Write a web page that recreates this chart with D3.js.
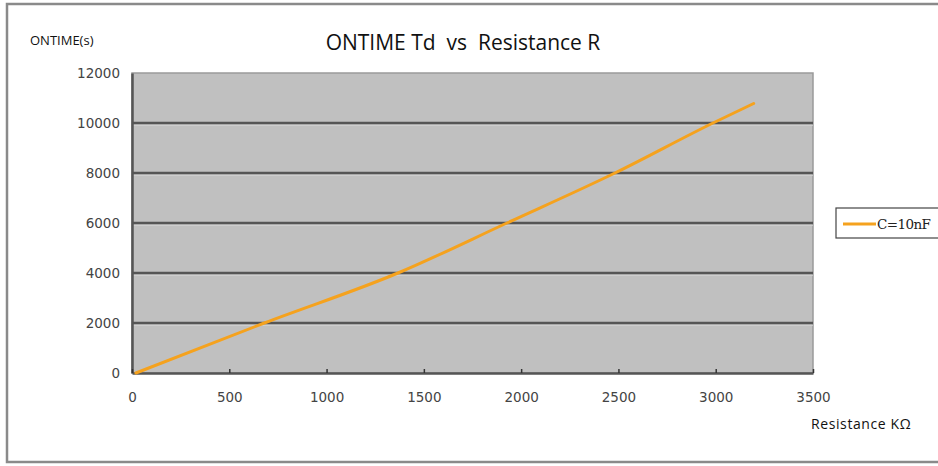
<!DOCTYPE html>
<html>
<head>
<meta charset="utf-8">
<script src="https://cdn.jsdelivr.net/npm/d3@7"></script>
<style>
  body { margin: 0; background: #fff; }
  svg { display: block; }
</style>
</head>
<body>
<svg id="chart" width="938" height="466"></svg>
<script>
// data
const resistance = [20, 680, 1367, 1927, 2482, 2986, 3195];
const ontime = [0, 2000, 4000, 6000, 8000, 10000, 10780];
const xTicks = [0, 500, 1000, 1500, 2000, 2500, 3000, 3500];
const yTicks = [0, 2000, 4000, 6000, 8000, 10000, 12000];
const seriesName = "C=10nF";

const width = 938;
const height = 466;
const margin = { top: 73, right: 125, bottom: 93, left: 132 };
const innerWidth = width - margin.left - margin.right;
const innerHeight = height - margin.top - margin.bottom;

const svg = d3.select("#chart");

// outer frame
svg.append("rect")
  .attr("x", 7).attr("y", 4)
  .attr("width", 940).attr("height", 458)
  .attr("fill", "none")
  .attr("stroke", "#8a8a8a")
  .attr("stroke-width", 2.5);

const xScale = d3.scaleLinear().domain([0, 3500]).range([0, innerWidth]);
const yScale = d3.scaleLinear().domain([0, 12000]).range([innerHeight, 0]);

const g = svg.append("g").attr("transform", `translate(${margin.left},${margin.top})`);

g.append("rect")
  .attr("width", innerWidth)
  .attr("height", innerHeight)
  .attr("fill", "#c0c0c0")
  .attr("stroke", "#9a9a9a")
  .attr("stroke-width", 1.5);

// gridlines (dark line with a light edge under it)
const grid = yTicks.filter((d) => d > 0 && d < 12000);
g.selectAll(".grid-hi").data(grid).enter().append("line")
  .attr("x1", 0).attr("x2", innerWidth)
  .attr("y1", (d) => yScale(d) + 2.2).attr("y2", (d) => yScale(d) + 2.2)
  .attr("stroke", "#d4d4d4").attr("stroke-width", 1);
g.selectAll(".grid").data(grid).enter().append("line")
  .attr("x1", 0).attr("x2", innerWidth)
  .attr("y1", (d) => yScale(d)).attr("y2", (d) => yScale(d))
  .attr("stroke", "#555").attr("stroke-width", 2.5);

// axes
const yAxis = d3.axisLeft(yScale).tickValues(yTicks).tickFormat(d3.format("d"))
  .tickSize(0).tickPadding(12);
const yAxisG = g.append("g").call(yAxis);
yAxisG.select(".domain").attr("stroke", "#555").attr("stroke-width", 2.5);

const xAxis = d3.axisBottom(xScale).tickValues(xTicks).tickFormat(d3.format("d"))
  .tickSizeInner(-4).tickSizeOuter(0).tickPadding(19);
const xAxisG = g.append("g").attr("transform", `translate(0,${innerHeight})`).call(xAxis);
xAxisG.select(".domain").attr("stroke", "#555").attr("stroke-width", 2.5);
xAxisG.selectAll(".tick line").attr("stroke", "#333").attr("stroke-width", 1.5);

svg.selectAll(".tick text")
  .attr("fill", "#444")
  .style("font-family", "'DejaVu Sans', sans-serif")
  .style("font-size", "13.5px");

// the series
const points = resistance.map((r, i) => ({ r, t: ontime[i] }));
const lineGenerator = d3.line()
  .x((d) => xScale(d.r))
  .y((d) => yScale(d.t))
  .curve(d3.curveMonotoneX);

g.append("path")
  .datum(points)
  .attr("d", lineGenerator)
  .attr("fill", "none")
  .attr("stroke", "#f5a21e")
  .attr("stroke-width", 3)
  .attr("stroke-linecap", "round");

// titles
svg.append("text")
  .attr("x", 463).attr("y", 50)
  .attr("text-anchor", "middle")
  .attr("fill", "#111")
  .style("font-family", "'Open Sans', sans-serif")
  .style("font-size", "21px")
  .attr("xml:space", "preserve")
  .text("ONTIME Td  vs  Resistance R");

svg.append("text")
  .attr("x", 30).attr("y", 45)
  .attr("fill", "#111")
  .style("font-family", "'Open Sans', sans-serif")
  .style("font-size", "13px")
  .text("ONTIME(s)");

svg.append("text")
  .attr("x", 811).attr("y", 429)
  .attr("fill", "#111")
  .style("font-family", "'Open Sans', sans-serif")
  .style("font-size", "14px")
  .style("letter-spacing", "0.6px")
  .text("Resistance KΩ");

// legend
const legend = svg.append("g").attr("transform", "translate(836,208)");
legend.append("rect")
  .attr("width", 104).attr("height", 30)
  .attr("fill", "#fff")
  .attr("stroke", "#444").attr("stroke-width", 1.2);
legend.append("line")
  .attr("x1", 7).attr("x2", 40).attr("y1", 16).attr("y2", 16)
  .attr("stroke", "#f5a21e").attr("stroke-width", 3);
legend.append("text")
  .attr("x", 41).attr("y", 21)
  .attr("fill", "#222")
  .style("font-family", "'DejaVu Serif', serif")
  .style("font-size", "13.5px")
  .style("letter-spacing", "-0.6px")
  .text(seriesName);
</script>
</body>
</html>
